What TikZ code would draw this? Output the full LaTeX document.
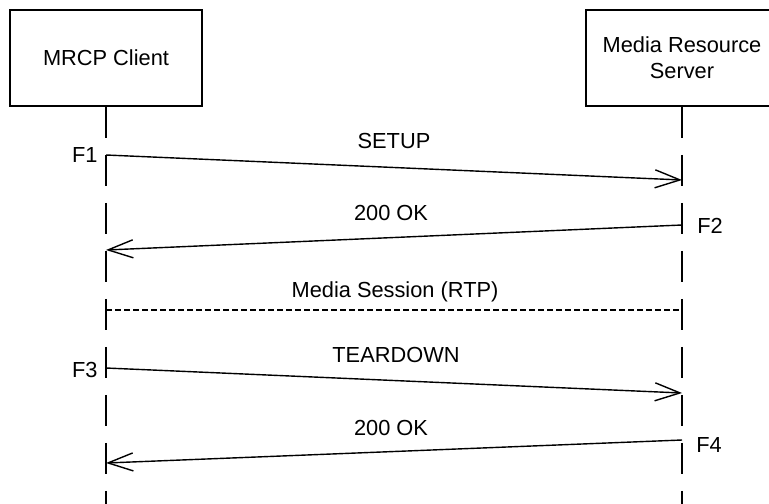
\documentclass[tikz,border=0pt]{standalone}
\usepackage{fontspec}
\setmainfont{Liberation Sans}
\usetikzlibrary{arrows.meta}

\tikzset{
  party/.style={draw,line width=0.75pt,minimum width=96pt,minimum height=48pt,
    align=center,inner sep=0pt},
  lifeline/.style={line width=0.75pt,dash pattern=on 15.5pt off 8.5pt},
  msg/.style={line width=0.7pt,-{Straight Barb[length=12.5pt,width=9pt]}},
  lbl/.style={anchor=base,inner sep=0pt},
}

\begin{document}
\begin{tikzpicture}[x=0.5pt,y=-0.5pt,font=\fontsize{10.9}{13}\selectfont]
  %\draw[very thin,lightgray] (0,0) grid[step=50] (769,503);
  \useasboundingbox (0,0) rectangle (769,503);
  \clip (0,0) rectangle (769,503);

  % the two parties and their lifelines
  \node[party] (client) at (106,58) {MRCP Client};
  \node[party] (server) at (682,58) {Media Resource\\Server};
  \coordinate (clientend) at (106,520);
  \coordinate (serverend) at (682,520);
  \draw[lifeline] (client.south) -- (clientend);
  \draw[lifeline] (server.south) -- (serverend);

  % end points of the messages on the lifelines
  \coordinate (f1a) at (106,155);  \coordinate (f1b) at (682,180);
  \coordinate (f2a) at (682,225);  \coordinate (f2b) at (106,250);
  \coordinate (rtpa) at (106,310); \coordinate (rtpb) at (682,310);
  \coordinate (f3a) at (106,368);  \coordinate (f3b) at (682,393);
  \coordinate (f4a) at (682,440);  \coordinate (f4b) at (106,463);

  \draw[msg] (f1a) -- (f1b);
  \draw[msg] (f2a) -- (f2b);
  \draw[line width=0.7pt,dash pattern=on 3pt off 1.5pt] (rtpa) -- (rtpb);
  \draw[msg] (f3a) -- (f3b);
  \draw[msg] (f4a) -- (f4b);

  \node[lbl] (setup) at (394,148) {SETUP};
  \node[lbl] (okone) at (391,220) {200 OK};
  \node[lbl] (rtp) at (395,297) {Media Session (RTP)};
  \node[lbl] (teardown) at (396,362) {TEARDOWN};
  \node[lbl] (oktwo) at (391,435) {200 OK};

  \node[anchor=base east,inner sep=0pt] (fone) at (98,162) {F1};
  \node[anchor=base west,inner sep=0pt] (ftwo) at (697,233) {F2};
  \node[anchor=base east,inner sep=0pt] (fthree) at (98,377) {F3};
  \node[anchor=base west,inner sep=0pt] (ffour) at (696,452) {F4};
\end{tikzpicture}
\end{document}
